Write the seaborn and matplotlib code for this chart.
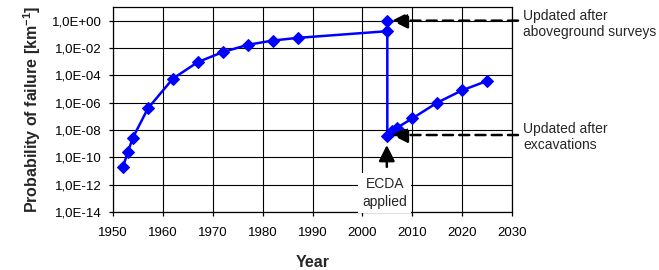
import numpy as np
import pandas as pd
import matplotlib
matplotlib.use("Agg")
import matplotlib.pyplot as plt
import seaborn as sns
from matplotlib.ticker import FixedLocator, FuncFormatter, NullLocator

# --- data ---
years = [1952, 1953, 1954, 1957, 1962, 1967, 1972, 1977, 1982, 1987,
         2005, 2005, 2005, 2006, 2007, 2010, 2015, 2020, 2025]
pof = [2e-11, 2.6e-10, 2.8e-9, 3.8e-7, 5.7e-5, 9.3e-4, 5e-3, 1.7e-2,
       3.5e-2, 5.5e-2, 1.7e-1, 1.0, 3.6e-9, 8.5e-9, 1.5e-8, 7e-8,
       1e-6, 8e-6, 3.9e-5]
y_ticks = [1e-14, 1e-12, 1e-10, 1e-8, 1e-6, 1e-4, 1e-2, 1e0]
x_ticks = list(range(1950, 2031, 10))

note_survey = "Updated after\naboveground surveys"
note_excav = "Updated after\nexcavations"
note_ecda = "ECDA\napplied"

df = pd.DataFrame({"Year": years, "pof": pof})

sns.set_theme(style="ticks")
plt.rcParams["font.family"] = ["Liberation Sans", "DejaVu Sans"]
plt.rcParams["mathtext.fontset"] = "custom"
plt.rcParams["mathtext.rm"] = "Liberation Sans"
plt.rcParams["mathtext.bf"] = "Liberation Sans:bold"

fig = plt.figure(figsize=(6.59, 2.70), dpi=100)
ax = fig.add_axes([113 / 659, 1 - 212 / 270, (512 - 113) / 659, (212 - 7) / 270])

sns.lineplot(data=df, x="Year", y="pof", sort=False, estimator=None,
             marker="D", markersize=6.5, color="#0000FF",
             markeredgecolor="#0000FF", linewidth=1.8, ax=ax, zorder=3)

ax.set_yscale("log")
ax.set_ylim(1e-14, 1e1)
ax.set_xlim(1950, 2030)
ax.yaxis.set_major_locator(FixedLocator(y_ticks))
ax.yaxis.set_minor_locator(NullLocator())
ax.yaxis.set_major_formatter(
    FuncFormatter(lambda v, p: f"1,0E{int(round(np.log10(v))):+03d}"))
ax.set_xticks(x_ticks)

ax.grid(True, color="black", linewidth=0.8)
for s in ax.spines.values():
    s.set_color("black")
    s.set_linewidth(0.9)
ax.tick_params(axis="both", direction="out", length=3, width=0.9,
               color="black", labelsize=9.5, labelcolor="black")
ax.tick_params(axis="y", pad=5.3)
ax.tick_params(axis="x", pad=7.5)

ax.set_xlabel("Year", fontsize=11.5, fontweight="bold", labelpad=12)
ax.set_ylabel(r"Probability of failure [km$^{\mathbf{-1}}$]", fontsize=11.5,
              fontweight="bold", labelpad=6)

# --- annotations ---
head = "-|>,head_length=0.8,head_width=0.4"
arrow_kw = dict(arrowstyle=head, color="black", lw=1.8,
                linestyle=(0, (4, 2.5)), shrinkA=0, shrinkB=0)
ax.annotate("", xy=(2005.9, 1.0), xytext=(2031.2, 1.0),
            arrowprops=arrow_kw, annotation_clip=False)
ax.annotate("", xy=(2005.9, 4.3e-9), xytext=(2031.2, 4.3e-9),
            arrowprops=arrow_kw, annotation_clip=False)
ax.text(2032.2, 0.6, note_survey, fontsize=10, va="center", ha="left")
ax.text(2032.2, 3e-9, note_excav, fontsize=10, va="center", ha="left")

ax.annotate("", xy=(2004.9, 8e-10), xytext=(2004.9, 2e-11),
            arrowprops=dict(arrowstyle=head, color="black", lw=1.8,
                            shrinkA=0, shrinkB=0))
ax.text(2004.5, 2.5e-13, note_ecda, fontsize=10, ha="center", va="center",
        linespacing=1.3, zorder=4,
        bbox=dict(facecolor="white", edgecolor="none", pad=3))

fig.savefig("out.png", dpi=100)
